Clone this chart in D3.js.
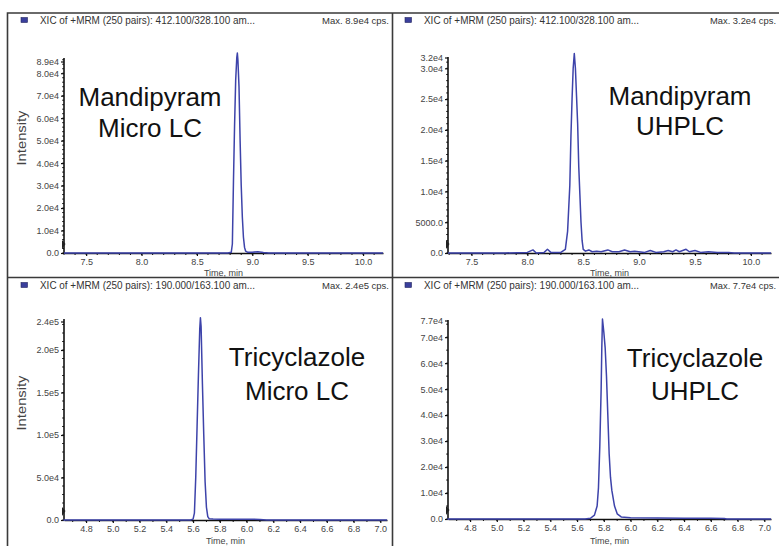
<!DOCTYPE html>
<html><head><meta charset="utf-8">
<script src="https://cdn.jsdelivr.net/npm/d3@7"></script>
<style>
html,body{margin:0;padding:0;background:#fff;}
svg{display:block;font-family:"Liberation Sans",Arial,sans-serif;}
</style></head><body>
<svg id="chart" width="779" height="546"></svg>
<script>
// ---------------- DATA ----------------
// Top-left: Mandipyram, Micro LC
const tlTime = [7.30, 8.78, 8.81, 8.82, 8.83, 8.84, 8.85, 8.86, 8.865, 8.87, 8.88, 8.89, 8.90, 8.91, 8.92, 8.93, 8.94, 8.96, 9.00, 9.05, 9.10, 9.15, 10.18];
const tlIntensity = [0, 0, 300, 4000, 32000, 57000, 77000, 87000, 89000, 86000, 74000, 50000, 30000, 16000, 7000, 2500, 800, 300, 300, 600, 200, 0, 0];
// Top-right: Mandipyram, UHPLC
const trTime = [7.29, 7.80, 8.00, 8.05, 8.08, 8.15, 8.18, 8.21, 8.30, 8.34, 8.36, 8.38, 8.39, 8.40, 8.41, 8.42, 8.43, 8.44, 8.45, 8.46, 8.47, 8.48, 8.49, 8.50, 8.52, 8.55, 8.58, 8.62, 8.66, 8.72, 8.76, 8.82, 8.87, 8.92, 8.96, 9.05, 9.10, 9.15, 9.22, 9.26, 9.30, 9.33, 9.36, 9.42, 9.45, 9.50, 9.55, 9.62, 9.70, 9.80, 9.85, 10.18];
const trIntensity = [0, 0, 100, 500, 0, 100, 600, 100, 100, 600, 3500, 11000, 19000, 25000, 30000, 32400, 30000, 25500, 21000, 14000, 9500, 5000, 2000, 600, 300, 500, 200, 300, 200, 500, 200, 200, 500, 200, 300, 100, 400, 100, 200, 400, 200, 500, 200, 600, 200, 400, 100, 200, 100, 100, 0, 0];
// Bottom-left: Tricyclazole, Micro LC
const blTime = [4.63, 5.58, 5.60, 5.61, 5.62, 5.63, 5.64, 5.65, 5.655, 5.66, 5.67, 5.68, 5.69, 5.70, 5.71, 5.72, 5.75, 5.80, 5.90, 6.00, 6.05, 6.10, 6.15, 7.05];
const blIntensity = [0, 0, 1000, 8000, 50000, 110000, 170000, 225000, 238000, 228000, 160000, 100000, 45000, 15000, 4000, 1500, 1200, 1000, 800, 800, 1000, 600, 0, 0];
// Bottom-right: Tricyclazole, UHPLC
const brTime = [4.63, 5.66, 5.70, 5.73, 5.75, 5.76, 5.77, 5.78, 5.785, 5.79, 5.80, 5.81, 5.82, 5.83, 5.84, 5.85, 5.86, 5.88, 5.90, 5.93, 6.00, 6.20, 6.40, 6.60, 6.70, 6.72, 7.05];
const brIntensity = [0, 0, 300, 1500, 5000, 12000, 28000, 50000, 66000, 77000, 72000, 66000, 55000, 40000, 25000, 16000, 11000, 5000, 2000, 800, 500, 400, 300, 300, 200, 0, 0];

// Tick values and labels
const tlYTicks = [0, 10000, 20000, 30000, 40000, 50000, 60000, 70000, 80000, 89000];
const tlYLabels = ["0.0", "1.0e4", "2.0e4", "3.0e4", "4.0e4", "5.0e4", "6.0e4", "7.0e4", "8.0e4", "8.9e4"];
const trYTicks = [0, 5000, 10000, 15000, 20000, 25000, 30000, 32000];
const trYLabels = ["0.0", "5000.0", "1.0e4", "1.5e4", "2.0e4", "2.5e4", "3.0e4", "3.2e4"];
const blYTicks = [0, 50000, 100000, 150000, 200000, 240000];
const blYLabels = ["0.0", "5.0e4", "1.0e5", "1.5e5", "2.0e5", "2.4e5"];
const brYTicks = [0, 10000, 20000, 30000, 40000, 50000, 60000, 70000, 77000];
const brYLabels = ["0.0", "1.0e4", "2.0e4", "3.0e4", "4.0e4", "5.0e4", "6.0e4", "7.0e4", "7.7e4"];
const topXTicks = [7.5, 8.0, 8.5, 9.0, 9.5, 10.0];
const topXLabels = ["7.5", "8.0", "8.5", "9.0", "9.5", "10.0"];
const bottomXTicks = [4.8, 5.0, 5.2, 5.4, 5.6, 5.8, 6.0, 6.2, 6.4, 6.6, 6.8, 7.0];
const bottomXLabels = ["4.8", "5.0", "5.2", "5.4", "5.6", "5.8", "6.0", "6.2", "6.4", "6.6", "6.8", "7.0"];

// Texts
const headerTexts = ["XIC of +MRM (250 pairs): 412.100/328.100 am...", "XIC of +MRM (250 pairs): 412.100/328.100 am...",
                     "XIC of +MRM (250 pairs): 190.000/163.100 am...", "XIC of +MRM (250 pairs): 190.000/163.100 am..."];
const maxTexts = ["Max. 8.9e4 cps.", "Max. 3.2e4 cps.", "Max. 2.4e5 cps.", "Max. 7.7e4 cps."];
const compounds = ["Mandipyram", "Mandipyram", "Tricyclazole", "Tricyclazole"];
const methods = ["Micro LC", "UHPLC", "Micro LC", "UHPLC"];
const xAxisTitle = "Time, min";
const yAxisTitle = "Intensity";

// ---------------- LAYOUT ----------------
const layout = [
  {time: tlTime, inten: tlIntensity, yTicks: tlYTicks, yLabels: tlYLabels, xTicks: topXTicks, xLabels: topXLabels,
   xDom: [7.30, 10.18], ax0: 64, ax1: 383, y0: 253, yMax: 89000, yMaxPx: 53, axisTop: 58, topLabelY: 62,
   yMinor: 2000, xMinor: 0.1, hx: 21, hy: 24, maxX: 322, maxW: 67, clip: [7, 392], titleY: 276, ylabY: 138,
   txtX: 150, txt1: 106, txt2: 137},
  {time: trTime, inten: trIntensity, yTicks: trYTicks, yLabels: trYLabels, xTicks: topXTicks, xLabels: topXLabels,
   xDom: [7.29, 10.18], ax0: 448, ax1: 771, y0: 253, yMax: 32000, yMaxPx: 56, axisTop: 57, topLabelY: 58,
   yMinor: 1000, xMinor: 0.1, hx: 405, hy: 24, maxX: 710, maxW: 66, clip: [392, 779], titleY: 276, ylabY: null,
   txtX: 680, txt1: 105, txt2: 135},
  {time: blTime, inten: blIntensity, yTicks: blYTicks, yLabels: blYLabels, xTicks: bottomXTicks, xLabels: bottomXLabels,
   xDom: [4.635, 7.05], ax0: 64, ax1: 387, y0: 520, yMax: 240000, yMaxPx: 316, axisTop: 319, topLabelY: 322,
   yMinor: 10000, xMinor: 0.1, hx: 21, hy: 289, maxX: 322, maxW: 67, clip: [7, 392], titleY: 544, ylabY: 403,
   txtX: 297, txt1: 366, txt2: 400},
  {time: brTime, inten: brIntensity, yTicks: brYTicks, yLabels: brYLabels, xTicks: bottomXTicks, xLabels: bottomXLabels,
   xDom: [4.635, 7.05], ax0: 448, ax1: 771, y0: 519, yMax: 77000, yMaxPx: 319, axisTop: 320, topLabelY: 321,
   yMinor: 5000, xMinor: 0.1, hx: 405, hy: 289, maxX: 710, maxW: 66, clip: [392, 779], titleY: 544, ylabY: null,
   txtX: 695, txt1: 367, txt2: 400}
];

const svg = d3.select("#chart");
svg.append("rect").attr("width", 779).attr("height", 546).attr("fill", "#fff");
const defs = svg.append("defs");

layout.forEach((p, i) => {
  const clipId = "clip" + i;
  defs.append("clipPath").attr("id", clipId).append("rect")
    .attr("x", p.clip[0]).attr("y", 0).attr("width", p.clip[1] - p.clip[0]).attr("height", 546);
  const g = svg.append("g").attr("clip-path", `url(#${clipId})`);

  const x = d3.scaleLinear().domain(p.xDom).range([p.ax0, p.ax1]);
  const y = d3.scaleLinear().domain([0, p.yMax]).range([p.y0, p.yMaxPx]);

  // header
  g.append("rect").attr("x", p.hx).attr("y", p.hy - 6.5).attr("width", 6.5).attr("height", 5)
    .attr("fill", "#3a3f9c").attr("stroke", "#23265e").attr("stroke-width", 0.6);
  g.append("text").attr("x", p.hx + 19).attr("y", p.hy).text(headerTexts[i])
    .attr("font-size", 10).attr("fill", "#333").attr("textLength", 215).attr("lengthAdjust", "spacingAndGlyphs");
  g.append("text").attr("x", p.maxX).attr("y", p.hy).text(maxTexts[i])
    .attr("font-size", 9).attr("fill", "#333").attr("textLength", p.maxW).attr("lengthAdjust", "spacingAndGlyphs");

  // y axis
  const yAxis = d3.axisLeft(y).tickValues(p.yTicks).tickFormat((d, k) => p.yLabels[k])
    .tickSize(3).tickPadding(2).tickSizeOuter(0);
  const ya = g.append("g").attr("transform", `translate(${p.ax0},0)`).call(yAxis);
  ya.select(".domain").attr("d", `M0,${p.axisTop}V${p.y0}`).attr("stroke", "#111").attr("stroke-width", 1.6);
  ya.selectAll(".tick line").attr("stroke", "#111").attr("stroke-width", 1.2);
  ya.selectAll(".tick text").attr("font-size", 9).attr("fill", "#444").attr("font-family", "'Liberation Sans', Arial, sans-serif");
  ya.selectAll(".tick").filter((d, k, n) => k === n.length - 1).attr("transform", `translate(0,${p.topLabelY})`);
  // y minor ticks
  g.append("g").selectAll("line").data(d3.range(0, p.yMax, p.yMinor).filter(v => y(v) >= p.axisTop))
    .join("line").attr("x1", p.ax0 - 1.8).attr("x2", p.ax0).attr("y1", d => y(d)).attr("y2", d => y(d))
    .attr("stroke", "#111").attr("stroke-width", 1);
  // small marker at zero
  g.append("path").attr("d", `M${p.ax0 - 2},${p.y0 - 13}L${p.ax0 + 1.5},${p.y0 - 9}L${p.ax0 - 2},${p.y0 - 4}Z`)
    .attr("fill", "#222");

  // x axis
  const xAxis = d3.axisBottom(x).tickValues(p.xTicks).tickFormat((d, k) => p.xLabels[k])
    .tickSize(3).tickPadding(3).tickSizeOuter(0);
  const xa = g.append("g").attr("transform", `translate(0,${p.y0})`).call(xAxis);
  xa.select(".domain").attr("stroke", "#111").attr("stroke-width", 1.6);
  xa.selectAll(".tick line").attr("stroke", "#111").attr("stroke-width", 1.2);
  xa.selectAll(".tick text").attr("font-size", 9).attr("fill", "#444").attr("font-family", "'Liberation Sans', Arial, sans-serif");
  const xm = d3.range(Math.ceil(p.xDom[0] / p.xMinor) * p.xMinor, p.xDom[1], p.xMinor);
  g.append("g").selectAll("line").data(xm).join("line")
    .attr("x1", d => x(d)).attr("x2", d => x(d)).attr("y1", p.y0).attr("y2", p.y0 + 2)
    .attr("stroke", "#111").attr("stroke-width", 1);

  // axis titles
  g.append("text").attr("x", (p.ax0 + p.ax1) / 2).attr("y", p.titleY).attr("text-anchor", "middle")
    .attr("font-size", 9).attr("fill", "#444").text(xAxisTitle);
  if (p.ylabY !== null) {
    g.append("text").attr("transform", `translate(26,${p.ylabY}) rotate(-90)`).attr("text-anchor", "middle")
      .attr("font-size", 12.5).attr("fill", "#444").attr("textLength", 55).attr("lengthAdjust", "spacingAndGlyphs")
      .text(yAxisTitle);
  }

  // trace
  const line = d3.line().x(d => x(d[0])).y(d => y(d[1]));
  g.append("path").datum(d3.zip(p.time, p.inten)).attr("d", line)
    .attr("fill", "none").attr("stroke", "#3d43aa").attr("stroke-width", 1.5).attr("stroke-linejoin", "round");

  // annotation
  g.append("text").attr("x", p.txtX).attr("y", p.txt1).attr("text-anchor", "middle")
    .attr("font-size", 26).attr("fill", "#111").text(compounds[i]);
  g.append("text").attr("x", p.txtX).attr("y", p.txt2).attr("text-anchor", "middle")
    .attr("font-size", 26).attr("fill", "#111").text(methods[i]);
});

// frame
const frame = svg.append("g").attr("stroke", "#3a3a3a").attr("stroke-width", 1.6).attr("fill", "none");
frame.append("path").attr("d", "M7.5,546V13H779");
frame.append("path").attr("d", "M392.5,13V546");
frame.append("path").attr("d", "M7.5,277.5H779");
</script>
</body></html>
